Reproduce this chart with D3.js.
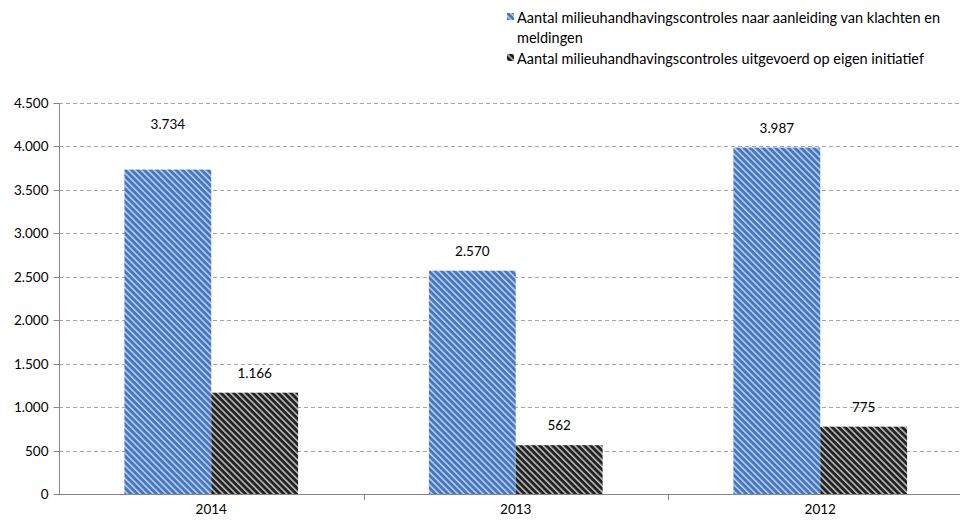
<!DOCTYPE html>
<html><head><meta charset="utf-8">
<script src="https://cdn.jsdelivr.net/npm/d3@7"></script>
<style>body{margin:0;background:#fff;} svg{display:block;font-family:Lato, "Open Sans", sans-serif;}</style>
</head><body>
<svg id="c" width="960" height="523"></svg>
<script>
const categories = ["2014", "2013", "2012"];
const seriesNames = [
  "Aantal milieuhandhavingscontroles naar aanleiding van klachten en meldingen",
  "Aantal milieuhandhavingscontroles uitgevoerd op eigen initiatief"
];
const klachten = [3734, 2570, 3987];
const eigenInitiatief = [1166, 562, 775];
const yTicks = [0, 500, 1000, 1500, 2000, 2500, 3000, 3500, 4000, 4500];

(function () {
const svg = d3.select("#c");
const fmt = d3.formatLocale({decimal: ",", thousands: ".", grouping: [3], currency: ["€", ""]}).format(",d");

const pLeft = 59, pRight = 972.5, pTop = 103, pBottom = 494;
const y = d3.scaleLinear().domain([0, 4500]).range([pBottom, pTop]);
const x0 = d3.scaleBand().domain(categories).range([pLeft, pRight]).padding(0);
const x1 = d3.scaleBand().domain([0, 1]).range([0, x0.bandwidth()]).paddingInner(0).paddingOuter(0.753);

// patterns
const defs = svg.append("defs");
function stripe(id, bg, fg) {
  const p = defs.append("pattern").attr("id", id).attr("patternUnits", "userSpaceOnUse")
    .attr("width", 4.5).attr("height", 4.5).attr("patternTransform", "rotate(-45)");
  p.append("rect").attr("width", 4.5).attr("height", 4.5).attr("fill", bg);
  p.append("rect").attr("x", 0).attr("width", 1.6).attr("height", 4.5).attr("fill", fg);
}
stripe("pBlue", "#4677be", "#b9cfec");
stripe("pBlack", "#222222", "#bdbdbd");
const fills = ["url(#pBlue)", "url(#pBlack)"];

// gridlines
svg.append("g").selectAll("line").data(yTicks.filter(d => d > 0)).join("line")
  .attr("x1", pLeft).attr("x2", 960).attr("y1", d => Math.round(y(d)) + 0.5).attr("y2", d => Math.round(y(d)) + 0.5)
  .attr("stroke", "#a6a6a6").attr("stroke-dasharray", "4,3");

// y axis
const yAxis = d3.axisLeft(y).tickValues(yTicks).tickSize(6).tickPadding(5).tickFormat(fmt);
const gy = svg.append("g").attr("transform", `translate(${pLeft + 0.5},0)`).call(yAxis);
gy.select(".domain").attr("stroke", "#868686").attr("d", `M-6,${pTop}.5H0V${pBottom}`);
gy.selectAll(".tick line").attr("stroke", "#868686");
gy.selectAll(".tick text").attr("font-size", 13.5).attr("fill", "#000").attr("font-family", "Lato");
gy.selectAll(".tick").attr("transform", d => `translate(0,${Math.round(y(d)) + 0.5})`);

// bars
const data = categories.map((c, i) => ({cat: c, vals: [klachten[i], eigenInitiatief[i]]}));
const groups = svg.append("g").selectAll("g").data(data).join("g")
  .attr("transform", d => `translate(${x0(d.cat)},0)`);
groups.selectAll("rect").data(d => d.vals.map((v, s) => ({v, s}))).join("rect")
  .attr("x", d => x1(d.s)).attr("width", x1.bandwidth())
  .attr("y", d => y(d.v)).attr("height", d => pBottom - y(d.v))
  .attr("fill", d => fills[d.s]);

// value labels
const nudge = {"2014-0": -26};
groups.selectAll("text").data(d => d.vals.map((v, s) => ({v, s, k: d.cat + "-" + s}))).join("text")
  .attr("x", d => x1(d.s) + x1.bandwidth() / 2)
  .attr("y", d => y(d.v) - 20 + (nudge[d.k] || 0))
  .attr("text-anchor", "middle").attr("dominant-baseline", "central")
  .attr("font-size", 13.5).attr("fill", "#000").text(d => fmt(d.v));

// x axis
const xAxis = d3.axisBottom(x0).tickSize(0).tickPadding(10);
const gx = svg.append("g").attr("transform", `translate(0,${pBottom + 0.5})`).call(xAxis);
gx.select(".domain").attr("stroke", "#868686").attr("d", `M${pLeft},0H960`);
gx.selectAll(".tick text").attr("font-size", 13.5).attr("fill", "#000").attr("font-family", "Lato");
svg.append("g").selectAll("line").data(categories.slice(1)).join("line")
  .attr("x1", d => Math.round(x0(d)) + 0.5).attr("x2", d => Math.round(x0(d)) + 0.5)
  .attr("y1", pBottom).attr("y2", pBottom + 6).attr("stroke", "#868686");

// legend
const lg = svg.append("g").attr("font-size", 14.5);
const legendLines = [[seriesNames[0].replace(" meldingen", ""), "meldingen"], [seriesNames[1]]];
const legendY = [17, 58];
legendLines.forEach((lines, i) => {
  lg.append("rect").attr("x", 507).attr("y", legendY[i] - 4).attr("width", 7).attr("height", 7).attr("fill", fills[i]);
  lines.forEach((t, j) => {
    lg.append("text").attr("x", 517).attr("y", legendY[i] + j * 20.5).attr("dominant-baseline", "central")
      .attr("fill", "#000").text(t);
  });
});
})();
</script>
</body></html>
